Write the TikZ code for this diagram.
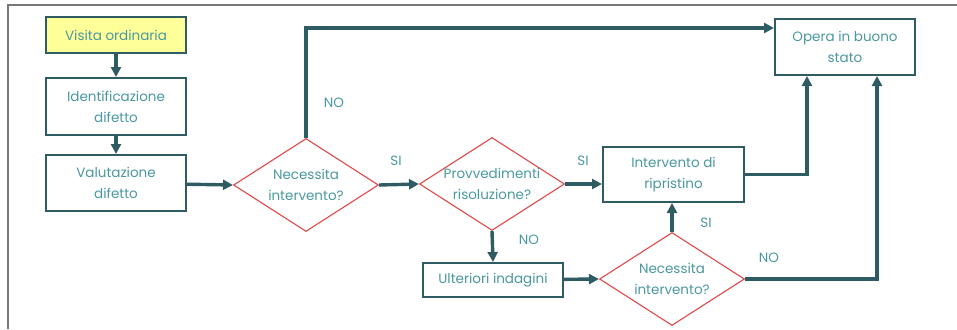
\documentclass[tikz,border=0pt]{standalone}
\usepackage{fontspec}
\setmainfont{Poppins}
\usepackage{xcolor}
\usepackage{tikz}
\usetikzlibrary{shapes.geometric, arrows.meta, positioning, calc}
\definecolor{fcborder}{HTML}{2E5C62}
\definecolor{fctext}{HTML}{4A98A0}
\definecolor{fcred}{HTML}{E04848}
\definecolor{fcyellow}{HTML}{FFFF99}
\definecolor{fcframe}{HTML}{777777}

\begin{document}
\begin{tikzpicture}[x=1pt, y=-1pt,
    box/.style={rectangle, draw=fcborder, line width=2pt, fill=white, minimum width=140pt, align=center, inner sep=2pt, text=fctext, font=\fontsize{13.5}{21}\selectfont},
    decision/.style={diamond, draw=fcred, line width=1.1pt, minimum width=145pt, minimum height=93pt, inner sep=0pt,
        label={[text=fctext, align=center, font=\fontsize{13.5}{21}\selectfont]center:#1}},
    lbl/.style={text=fctext, font=\fontsize{13.5}{14}\selectfont},
    arrow/.style={-{Triangle[length=10pt, width=10pt]}, line width=3.4pt, color=fcborder}
]
\useasboundingbox (0,0) rectangle (957,329);

% Frame
\draw[fcframe, line width=1.5pt] (8,329) -- (8,5) -- (957,5);

% Left column
\node[box, fill=fcyellow, minimum height=36pt] (visita) at (116,35) {Visita ordinaria};
\node[box, minimum height=57pt] (ident) at (116,106.5) {Identificazione\\difetto};
\node[box, minimum height=56pt] (valut) at (116,183) {Valutazione\\difetto};

% Decisions
\node[decision={Necessita\\intervento?}] (nec1) at (306,185) {};
\node[decision={Provvedimenti\\risoluzione?}] (provv) at (492,184) {};
\node[decision={Necessita\\intervento?}] (nec2) at (672,279) {};

% Right boxes
\node[box, minimum height=56pt] (opera) at (845,47) {Opera in buono\\stato};
\node[box, minimum width=141pt, minimum height=55pt] (ripr) at (673.5,174.5) {Intervento di\\ripristino};
\node[box, minimum height=34pt] (ulter) at (493,280) {Ulteriori indagini};

% Bend points
\coordinate (topline) at (0,28);
\coordinate (bendA) at (807,0);
\coordinate (bendB) at (877,0);

% Connectors
\draw[arrow] (visita) -- (ident);
\draw[arrow] (ident) -- (valut);
\draw[arrow] (valut) -- (nec1.west);
\draw[arrow] (nec1.north) |- (opera.west |- topline);
\draw[arrow] (nec1.east) -- (provv.west);
\draw[arrow] (provv.east) -- (ripr.west |- provv.east);
\draw[arrow] (provv.south) -- (ulter.north);
\draw[arrow] (ulter) -- (nec2.west);
\draw[arrow] (nec2.north) -- (ripr.south -| nec2.north);
\draw[arrow] (ripr.east) -| (bendA |- opera.south);
\draw[arrow] (nec2.east) -| (bendB |- opera.south);

% Labels
\node[lbl] (no1) at (334,103) {NO};
\node[lbl] (si1) at (396,161) {SI};
\node[lbl] (si2) at (583,161) {SI};
\node[lbl] (no2) at (529,240) {NO};
\node[lbl] (si3) at (706,223) {SI};
\node[lbl] (no3) at (769,258) {NO};

\end{tikzpicture}
\end{document}
